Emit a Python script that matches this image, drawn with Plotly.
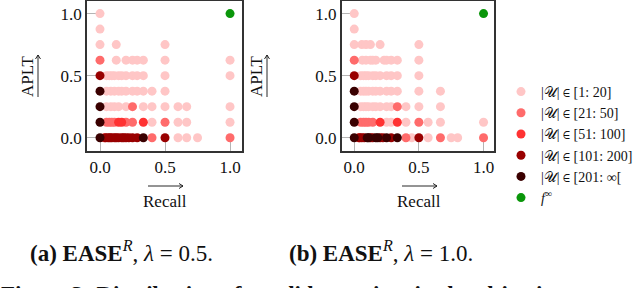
import plotly.graph_objects as go

# ---------------- data ----------------
categories = ["|𝒰| ∈ [1: 20]", "|𝒰| ∈ [21: 50]", "|𝒰| ∈ [51: 100]",
              "|𝒰| ∈ [101: 200]", "|𝒰| ∈ [201: ∞["]
cat_colors = ["#ffc6c6", "#ff6b6b", "#ff3232", "#990000", "#3a0000"]
ideal_label = "<i>f</i><sup>∞</sup>"
ideal_x = [1.0]
ideal_y = [1.0]

# panel (a): EASE^R, lambda = 0.5
a1_x = [0, 0, 0, 0.125, 0.5,
        0.125, 0.2, 0.25, 0.2857, 0.3333, 0.5, 1.0,
        0.05, 0.0714, 0.0909, 0.1111, 0.1429, 0.1667, 0.2, 0.25, 0.2857, 0.3333, 0.5, 1.0,
        0.05, 0.0833, 0.1111, 0.1429, 0.1667, 0.2, 0.25, 0.2857, 0.3333, 0.4, 0.5,
        0.05, 0.0833, 0.1111, 0.1429, 0.2, 0.3333, 0.4, 0.5, 0.6, 0.6667, 1.0,
        0.4, 0.6, 0.6667, 1.0,
        0.6, 0.6667, 0.75]
a1_y = [1.0, 0.875, 0.75, 0.75, 0.75,
        0.625, 0.625, 0.625, 0.625, 0.625, 0.625, 0.625,
        0.5, 0.5, 0.5, 0.5, 0.5, 0.5, 0.5, 0.5, 0.5, 0.5, 0.5, 0.5,
        0.375, 0.375, 0.375, 0.375, 0.375, 0.375, 0.375, 0.375, 0.375, 0.375, 0.375,
        0.25, 0.25, 0.25, 0.25, 0.25, 0.25, 0.25, 0.25, 0.25, 0.25, 0.25,
        0.125, 0.125, 0.125, 0.125,
        0, 0, 0]
a2_x = [0, 0.25, 0.05, 0.0714, 0.0909, 0.1111, 0.2, 0.25, 0.5, 0.4, 1.0]
a2_y = [0.625, 0.25, 0.125, 0.125, 0.125, 0.125, 0.125, 0.125, 0.125, 0, 0]
a3_x = [0.1429, 0.1667, 0.3333, 0.0345]
a3_y = [0.125, 0.125, 0.125, 0]
a4_x = [0, 0.0435, 0.0625, 0.0769, 0.0909, 0.1111, 0.125, 0.1429, 0.1667, 0.1818,
        0.2, 0.2222, 0.25, 0.2857, 0.5]
a4_y = [0.5, 0, 0, 0, 0, 0, 0, 0, 0, 0, 0, 0, 0, 0, 0]
a5_x = [0, 0, 0, 0, 0.3333]
a5_y = [0.375, 0.25, 0.125, 0, 0]

# panel (b): EASE^R, lambda = 1.0
b1_x = [0, 0, 0, 0.0588, 0.0909, 0.125, 0.2, 0.5,
        0.0625, 0.0909, 0.125, 0.1429, 0.1667, 0.2308, 0.25, 0.2857, 0.3333, 0.5,
        0.05, 0.0714, 0.0909, 0.1111, 0.1429, 0.1667, 0.2, 0.25, 0.2857, 0.3333, 0.5,
        0.05, 0.0714, 0.0909, 0.1111, 0.1429, 0.1667, 0.2, 0.25, 0.2857, 0.3333, 0.5, 0.6667,
        0.05, 0.0714, 0.0909, 0.1111, 0.1429, 0.1667, 0.2, 0.25, 0.2857, 0.4, 0.5, 0.6667,
        0.25, 0.2857, 0.4, 0.5714, 0.6667, 1.0,
        0.4444, 0.5714, 0.75, 0.8]
b1_y = [1.0, 0.875, 0.75, 0.75, 0.75, 0.75, 0.75, 0.75,
        0.625, 0.625, 0.625, 0.625, 0.625, 0.625, 0.625, 0.625, 0.625, 0.625,
        0.5, 0.5, 0.5, 0.5, 0.5, 0.5, 0.5, 0.5, 0.5, 0.5, 0.5,
        0.375, 0.375, 0.375, 0.375, 0.375, 0.375, 0.375, 0.375, 0.375, 0.375, 0.375, 0.375,
        0.25, 0.25, 0.25, 0.25, 0.25, 0.25, 0.25, 0.25, 0.25, 0.25, 0.25, 0.25,
        0.125, 0.125, 0.125, 0.125, 0.125, 0.125,
        0, 0, 0, 0]
b2_x = [0, 0.3333, 0.05, 0.0714, 0.0909, 0.1111, 0.1429, 0.5, 0.4, 0.6667, 1.0]
b2_y = [0.625, 0.25, 0.125, 0.125, 0.125, 0.125, 0.125, 0.125, 0, 0, 0]
b3_x = [0.2, 0.3333, 0.0357]
b3_y = [0.125, 0.125, 0]
b4_x = [0, 0.0417, 0.0588, 0.0769, 0.125, 0.1429, 0.2, 0.2222, 0.2857, 0.5]
b4_y = [0.5, 0, 0, 0, 0, 0, 0, 0, 0, 0]
b5_x = [0, 0, 0, 0, 0.1, 0.1111, 0.1667, 0.1818, 0.25, 0.3333]
b5_y = [0.375, 0.25, 0.125, 0, 0, 0, 0, 0, 0, 0]

tick_vals = [0, 0.5, 1.0]
tick_text = ["0.0", "0.5", "1.0"]
x_title = "Recall"
y_title = "APLT"
caption_a = "<b>(a) EASE</b><sup><i>R</i></sup>, <i>λ</i> = 0.5."
caption_b = "<b>(b) EASE</b><sup><i>R</i></sup>, <i>λ</i> = 1.0."
fig_caption = "<b>Figure 3: Distribution of candidate points in the objective space</b>"

# ---------------- figure ----------------
W, H = 640, 288
SERIF = "Liberation Serif"
MS = 9

panels = {
    "a": [(a1_x, a1_y), (a2_x, a2_y), (a3_x, a3_y), (a4_x, a4_y), (a5_x, a5_y)],
    "b": [(b1_x, b1_y), (b2_x, b2_y), (b3_x, b3_y), (b4_x, b4_y), (b5_x, b5_y)],
}
axis_ids = {"a": ("x", "y"), "b": ("x2", "y2")}

fig = go.Figure()
for p, series in panels.items():
    xa, ya = axis_ids[p]
    for i, (xs, ys) in enumerate(series):
        fig.add_trace(go.Scatter(
            x=xs, y=ys, mode="markers", xaxis=xa, yaxis=ya,
            name=categories[i], legendgroup=categories[i], showlegend=(p == "a"),
            marker=dict(size=MS, color=cat_colors[i], line=dict(width=0)),
            hoverinfo="skip"))
    fig.add_trace(go.Scatter(
        x=ideal_x, y=ideal_y, mode="markers", xaxis=xa, yaxis=ya,
        name=ideal_label, legendgroup="ideal", showlegend=(p == "a"),
        marker=dict(size=MS, color="#0a960a", line=dict(width=0)),
        hoverinfo="skip"))

def px2x(px):
    return px / W

def px2y(py):
    return 1 - py / H

ydom = [px2y(151), px2y(0.8)]
common_x = dict(tickvals=tick_vals, ticktext=tick_text, ticks="inside", ticklen=13,
                tickcolor="#b4b4b4", tickwidth=1, showgrid=False, zeroline=False,
                showline=True, linecolor="#333333", linewidth=1.6, mirror=True,
                tickfont=dict(family=SERIF, size=17, color="#111"), layer="below traces",
                automargin=False)
common_y = dict(common_x)

fig.update_layout(
    template="none",
    width=W, height=H, margin=dict(l=0, r=0, t=0, b=0, autoexpand=False),
    paper_bgcolor="white", plot_bgcolor="white",
    xaxis=dict(domain=[px2x(87), px2x(242)], range=[-0.1, 1.092], anchor="y", **common_x),
    yaxis=dict(domain=ydom, range=[-0.107, 1.103], anchor="x", **common_y),
    xaxis2=dict(domain=[px2x(341.7), px2x(494)], range=[-0.097, 1.081], anchor="y2", **common_x),
    yaxis2=dict(domain=ydom, range=[-0.107, 1.103], anchor="x2", **common_y),
    legend=dict(x=px2x(501), y=px2y(76), xanchor="left", yanchor="top",
                font=dict(family=SERIF, size=14, color="#111"),
                itemwidth=30, bgcolor="rgba(0,0,0,0)", tracegroupgap=0),
    showlegend=True,
)

# arrows drawn as thin paths (paper coordinates)
def hpath(x0, x1, y):
    X0, X1, Y = px2x(x0), px2x(x1), px2y(y)
    hx, hy = 4 / W, 2.5 / H
    return f"M{X0},{Y} L{X1},{Y} M{X1 - hx},{Y + hy} L{X1},{Y} L{X1 - hx},{Y - hy}"

def vpath(x, y0, y1):
    X, Y0, Y1 = px2x(x), px2y(y0), px2y(y1)
    hx, hy = 2.5 / W, 4 / H
    return f"M{X},{Y0} L{X},{Y1} M{X - hx},{Y1 - hy} L{X},{Y1} L{X + hx},{Y1 - hy}"

shapes = []
anns = []
for cx in (165, 419):
    anns.append(dict(x=px2x(cx), y=px2y(201), xref="paper", yref="paper", text=x_title,
                     showarrow=False, font=dict(family=SERIF, size=17, color="#111"),
                     xanchor="center", yanchor="middle"))
    shapes.append(dict(type="path", xref="paper", yref="paper",
                       path=hpath(cx - 17, cx + 18, 186),
                       line=dict(color="#111", width=0.9)))
for lx in (28, 257):
    anns.append(dict(x=px2x(lx), y=px2y(76), xref="paper", yref="paper", text=y_title,
                     showarrow=False, textangle=-90,
                     font=dict(family=SERIF, size=17, color="#111"),
                     xanchor="center", yanchor="middle"))
    shapes.append(dict(type="path", xref="paper", yref="paper",
                       path=vpath(lx + 10, 97, 55),
                       line=dict(color="#111", width=0.9)))
anns.append(dict(x=px2x(121), y=px2y(251), xref="paper", yref="paper", text=caption_a,
                 showarrow=False, font=dict(family=SERIF, size=23, color="#111"),
                 xanchor="center", yanchor="middle"))
anns.append(dict(x=px2x(381), y=px2y(251), xref="paper", yref="paper", text=caption_b,
                 showarrow=False, font=dict(family=SERIF, size=23, color="#111"),
                 xanchor="center", yanchor="middle"))
anns.append(dict(x=px2x(-1), y=px2y(294), xref="paper", yref="paper", text=fig_caption,
                 showarrow=False, font=dict(family=SERIF, size=23, color="#111"),
                 xanchor="left", yanchor="middle"))
fig.update_layout(annotations=anns, shapes=shapes)

fig.write_html("out.html", config={"displayModeBar": False},
               post_script="document.body.style.margin='0';document.body.style.overflow='hidden';")
